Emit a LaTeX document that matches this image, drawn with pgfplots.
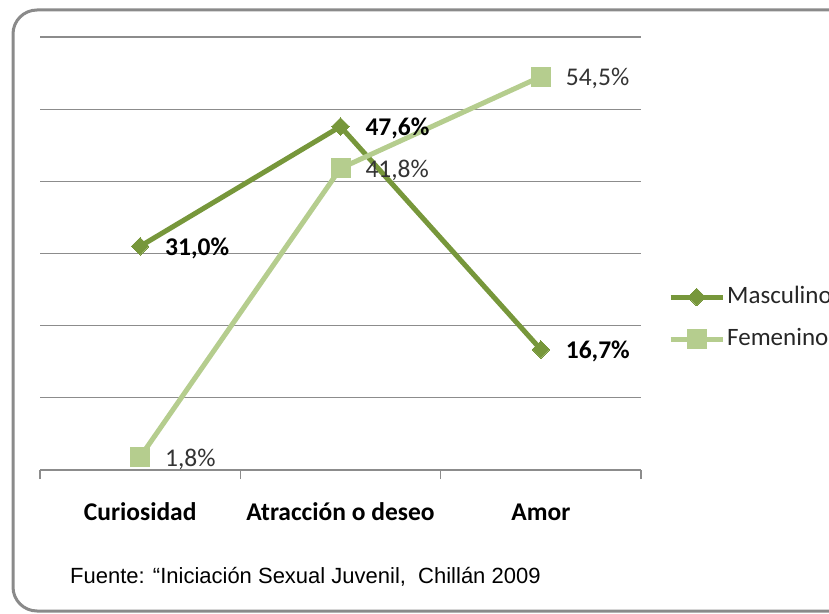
\documentclass[border=0pt]{standalone}
\usepackage{pgfplots}
\pgfplotsset{compat=1.18}
\usepackage{fontspec}
\setmainfont{Carlito}
\newfontfamily\arialfont{Liberation Sans}
\definecolor{masc}{HTML}{77973B}
\definecolor{fem}{HTML}{B5CD8E}
\definecolor{gridc}{HTML}{8C8C8C}
\definecolor{borderc}{HTML}{8A8A8A}
\begin{document}
\begin{tikzpicture}[x=1pt,y=1pt]
\clip (0,0) rectangle (829,613);
\draw[borderc, line width=3pt, rounded corners=24pt] (13,603) rectangle (870,2);
\begin{axis}[
  at={(40pt,143pt)}, anchor=south west,
  width=601pt, height=433pt, scale only axis,
  xmin=-0.5, xmax=2.5, ymin=0, ymax=60,
  axis lines*=left,
  x axis line style={-, gridc, line width=1.2pt},
  y axis line style={draw=none},
  ytick={0,10,...,60}, yticklabels={},
  ymajorgrids, grid style={gridc, line width=1.2pt},
  xtick={0,1,2}, xticklabels={Curiosidad, Atracción o deseo, Amor},
  major tick length=0pt,
  minor xtick={-0.5,0.5,1.5,2.5},
  minor tick length=9pt, tick align=outside,
  minor tick style={gridc, line width=1.2pt},
  xticklabel style={font=\fontsize{25.5pt}{30pt}\selectfont\bfseries, inner sep=0pt, text height=17pt, text depth=6pt, yshift=-33pt, text=black},
  clip=false,
  legend style={at={(1.0449,0.351)}, anchor=west, draw=none, fill=none,
    font=\fontsize{25pt}{30pt}\selectfont, text=black!85, inner sep=0pt,
    row sep=20pt,
    nodes={inner sep=0pt, text height=17pt, text depth=5pt}},
  legend cell align=left,
  /tikz/every odd column/.append style={column sep=2pt},
  legend image code/.code={\draw[mark repeat=2,mark phase=2,#1] plot coordinates {(0pt,0pt) (26pt,0pt) (52pt,0pt)};},
  nodes near coords={\pgfmathprintnumber[fixed,fixed zerofill,precision=1,use comma,assume math mode=true]{\pgfplotspointmeta}\%},
]
\addplot[masc, line width=5pt, mark=square*, mark size=6.2pt, mark options={rotate=45, solid, fill=masc, draw=masc, line width=0pt},
  every node near coord/.append style={anchor=west, xshift=25pt, yshift=-2pt, inner sep=0pt, text=black, font=\fontsize{25.5pt}{30pt}\selectfont\bfseries}]
  coordinates {(0,31.0) (1,47.6) (2,16.7)};
\addlegendentry{Masculino}
\addplot[fem, line width=5pt, mark=square*, mark size=9.5pt, mark options={solid, fill=fem, draw=fem, line width=0pt},
  every node near coord/.append style={anchor=west, xshift=25pt, yshift=-2pt, inner sep=0pt, text=black!80, font=\fontsize{25.5pt}{30pt}\selectfont}]
  coordinates {(0,1.8) (1,41.8) (2,54.5)};
\addlegendentry{Femenino}
\end{axis}
\node[anchor=base west, inner sep=0pt, font=\arialfont\fontsize{22pt}{26pt}\selectfont, text=black] at (70,30) {Fuente: “Iniciación Sexual Juvenil,\ \ Chillán 2009};
\end{tikzpicture}
\end{document}
